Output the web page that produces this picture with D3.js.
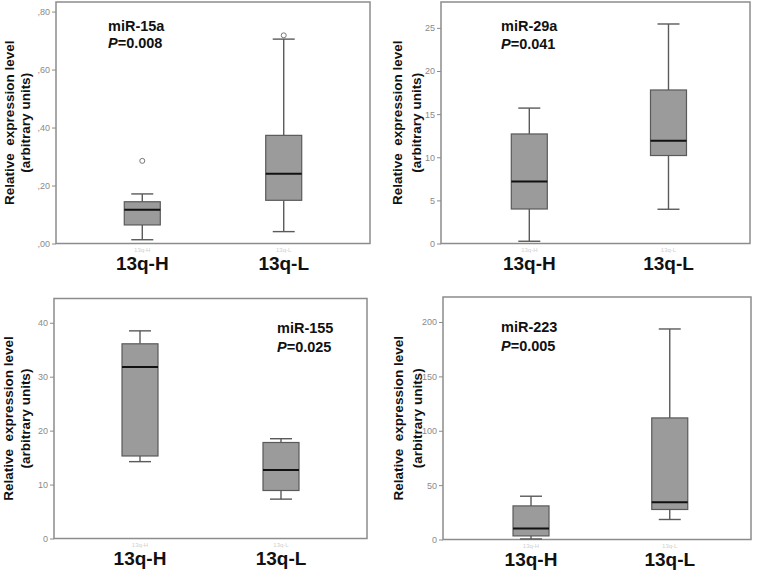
<!DOCTYPE html>
<html lang="en">
<head>
<meta charset="utf-8" />
<title>miRNA expression by 13q group</title>
<script src="https://cdn.jsdelivr.net/npm/d3@7"></script>
<style>
    body { margin: 0; background: #fff; }
    svg { display: block; font-family: "Liberation Sans", Arial, sans-serif; }
</style>
</head>
<body>
<svg id="chart" width="758" height="570"></svg>
<script>
// groups on the x axis
const groups = ["13q-H", "13q-L"];
const mirNames = ["miR-15a", "miR-29a", "miR-155", "miR-223"];
const pValues = ["0.008", "0.041", "0.025", "0.005"];

// [lower whisker, Q1, median, Q3, upper whisker] per group
const mir15aStats = [[0.013, 0.064, 0.116, 0.144, 0.171], [0.041, 0.149, 0.241, 0.373, 0.705]];
const mir15aOutliers = [[0.285], [0.718]];
const mir29aStats = [[0.26, 4.0, 7.2, 12.7, 15.7], [3.97, 10.2, 11.9, 17.8, 25.45]];
const mir155Stats = [[14.25, 15.3, 31.8, 36.1, 38.5], [7.3, 8.9, 12.7, 17.8, 18.5]];
const mir223Stats = [[0.5, 3.3, 10.1, 30.9, 39.8], [18.4, 27.6, 34.3, 111.8, 193.6]];

// y axis ticks and top of each axis
const mir15aTicks = [0, 0.2, 0.4, 0.6, 0.8];
const mir29aTicks = [0, 5, 10, 15, 20, 25];
const mir155Ticks = [0, 10, 20, 30, 40];
const mir223Ticks = [0, 50, 100, 150, 200];
const yMaxes = [0.833, 28, 44.5, 223];

// panel layout (pixels)
const panels = [
    { left: 56,  top: 2,     right: 370, bottom: 243.5, align: 0.5,  lab: [108, 31, 48],  titleX: [9, 25] },
    { left: 441, top: 2,     right: 750, bottom: 243.5, align: 0.52, lab: [501, 31, 49],  titleX: [397, 416] },
    { left: 54,  top: 298.5, right: 367, bottom: 538.5, align: 0.5,  lab: [277, 333, 352], titleX: [8, 25] },
    { left: 443, top: 297,   right: 751, bottom: 539.5, align: 0.52, lab: [501, 332, 351], titleX: [398, 417] }
];
const stats = [mir15aStats, mir29aStats, mir155Stats, mir223Stats];
const outliers = [mir15aOutliers, [[], []], [[], []], [[], []]];
const ticks = [mir15aTicks, mir29aTicks, mir155Ticks, mir223Ticks];
const fmt15 = v => v.toFixed(2).replace("0.", ",");
const formats = [fmt15, d3.format("d"), d3.format("d"), d3.format("d")];

const svg = d3.select("#chart");
const boxW = 36, capW = 22;

panels.forEach((p, i) => {
    const g = svg.append("g");
    const x = d3.scalePoint().domain(groups).range([p.left, p.right]).padding(0.61).align(p.align);
    const y = d3.scaleLinear().domain([0, yMaxes[i]]).range([p.bottom, p.top]);

    // frame
    g.append("rect")
        .attr("x", p.left).attr("y", p.top)
        .attr("width", p.right - p.left).attr("height", p.bottom - p.top)
        .attr("fill", "none").attr("stroke", "#8c8c8c").attr("stroke-width", 1.5);

    // y axis
    const yAxis = d3.axisLeft(y).tickValues(ticks[i]).tickFormat(formats[i]).tickSize(4).tickPadding(2);
    const ya = g.append("g").attr("transform", `translate(${p.left},0)`).call(yAxis);
    ya.select(".domain").remove();
    ya.selectAll("line").attr("stroke", "#8c8c8c");
    ya.selectAll("text").attr("fill", "#8a8a8a").style("font-size", "9px");

    // faint category ticks under the axis
    g.selectAll(".ctick").data(groups).enter().append("text")
        .attr("x", d => x(d)).attr("y", p.bottom + 8)
        .attr("text-anchor", "middle").attr("fill", "#d0d0d0")
        .style("font-size", "6px").text(d => d);

    // category labels
    g.selectAll(".cat").data(groups).enter().append("text")
        .attr("x", d => x(d)).attr("y", p.bottom + 26)
        .attr("text-anchor", "middle").attr("fill", "#111")
        .style("font-size", "19px").style("font-weight", "bold")
        .text(d => d);

    // boxplots
    stats[i].forEach((s, j) => {
        const cx = x(groups[j]);
        const bg = g.append("g");
        bg.append("line").attr("x1", cx).attr("x2", cx).attr("y1", y(s[0])).attr("y2", y(s[1]))
            .attr("stroke", "#5a5a5a").attr("stroke-width", 1.4);
        bg.append("line").attr("x1", cx).attr("x2", cx).attr("y1", y(s[3])).attr("y2", y(s[4]))
            .attr("stroke", "#5a5a5a").attr("stroke-width", 1.4);
        [s[0], s[4]].forEach(v => {
            bg.append("line").attr("x1", cx - capW / 2).attr("x2", cx + capW / 2)
                .attr("y1", y(v)).attr("y2", y(v))
                .attr("stroke", "#5a5a5a").attr("stroke-width", 1.4);
        });
        bg.append("rect")
            .attr("x", cx - boxW / 2).attr("y", y(s[3]))
            .attr("width", boxW).attr("height", y(s[1]) - y(s[3]))
            .attr("fill", "#9b9b9b").attr("stroke", "#5a5a5a").attr("stroke-width", 1.2);
        bg.append("line").attr("x1", cx - boxW / 2).attr("x2", cx + boxW / 2)
            .attr("y1", y(s[2])).attr("y2", y(s[2]))
            .attr("stroke", "#111").attr("stroke-width", 2);
        outliers[i][j].forEach(v => {
            bg.append("circle").attr("cx", cx).attr("cy", y(v)).attr("r", 2.5)
                .attr("fill", "#fff").attr("stroke", "#777").attr("stroke-width", 1);
        });
    });

    // miRNA name and P value
    g.append("text").attr("x", p.lab[0]).attr("y", p.lab[1])
        .attr("fill", "#111").style("font-size", "14.5px").style("font-weight", "bold")
        .text(mirNames[i]);
    const pt = g.append("text").attr("x", p.lab[0]).attr("y", p.lab[2])
        .attr("fill", "#111").style("font-size", "14.5px").style("font-weight", "bold");
    pt.append("tspan").style("font-style", "italic").text("P");
    pt.append("tspan").text("=" + pValues[i]);

    // y title, two lines
    const cy = (p.top + p.bottom) / 2;
    ["Relative  expression level", "(arbitrary units)"].forEach((t, k) => {
        g.append("text")
            .attr("transform", `translate(${p.titleX[k]},${cy}) rotate(-90)`)
            .attr("text-anchor", "middle").attr("dominant-baseline", "central")
            .attr("fill", "#111").style("font-size", "13.5px").style("font-weight", "bold")
            .style("white-space", "pre")
            .text(t);
    });
});
</script>
</body>
</html>
